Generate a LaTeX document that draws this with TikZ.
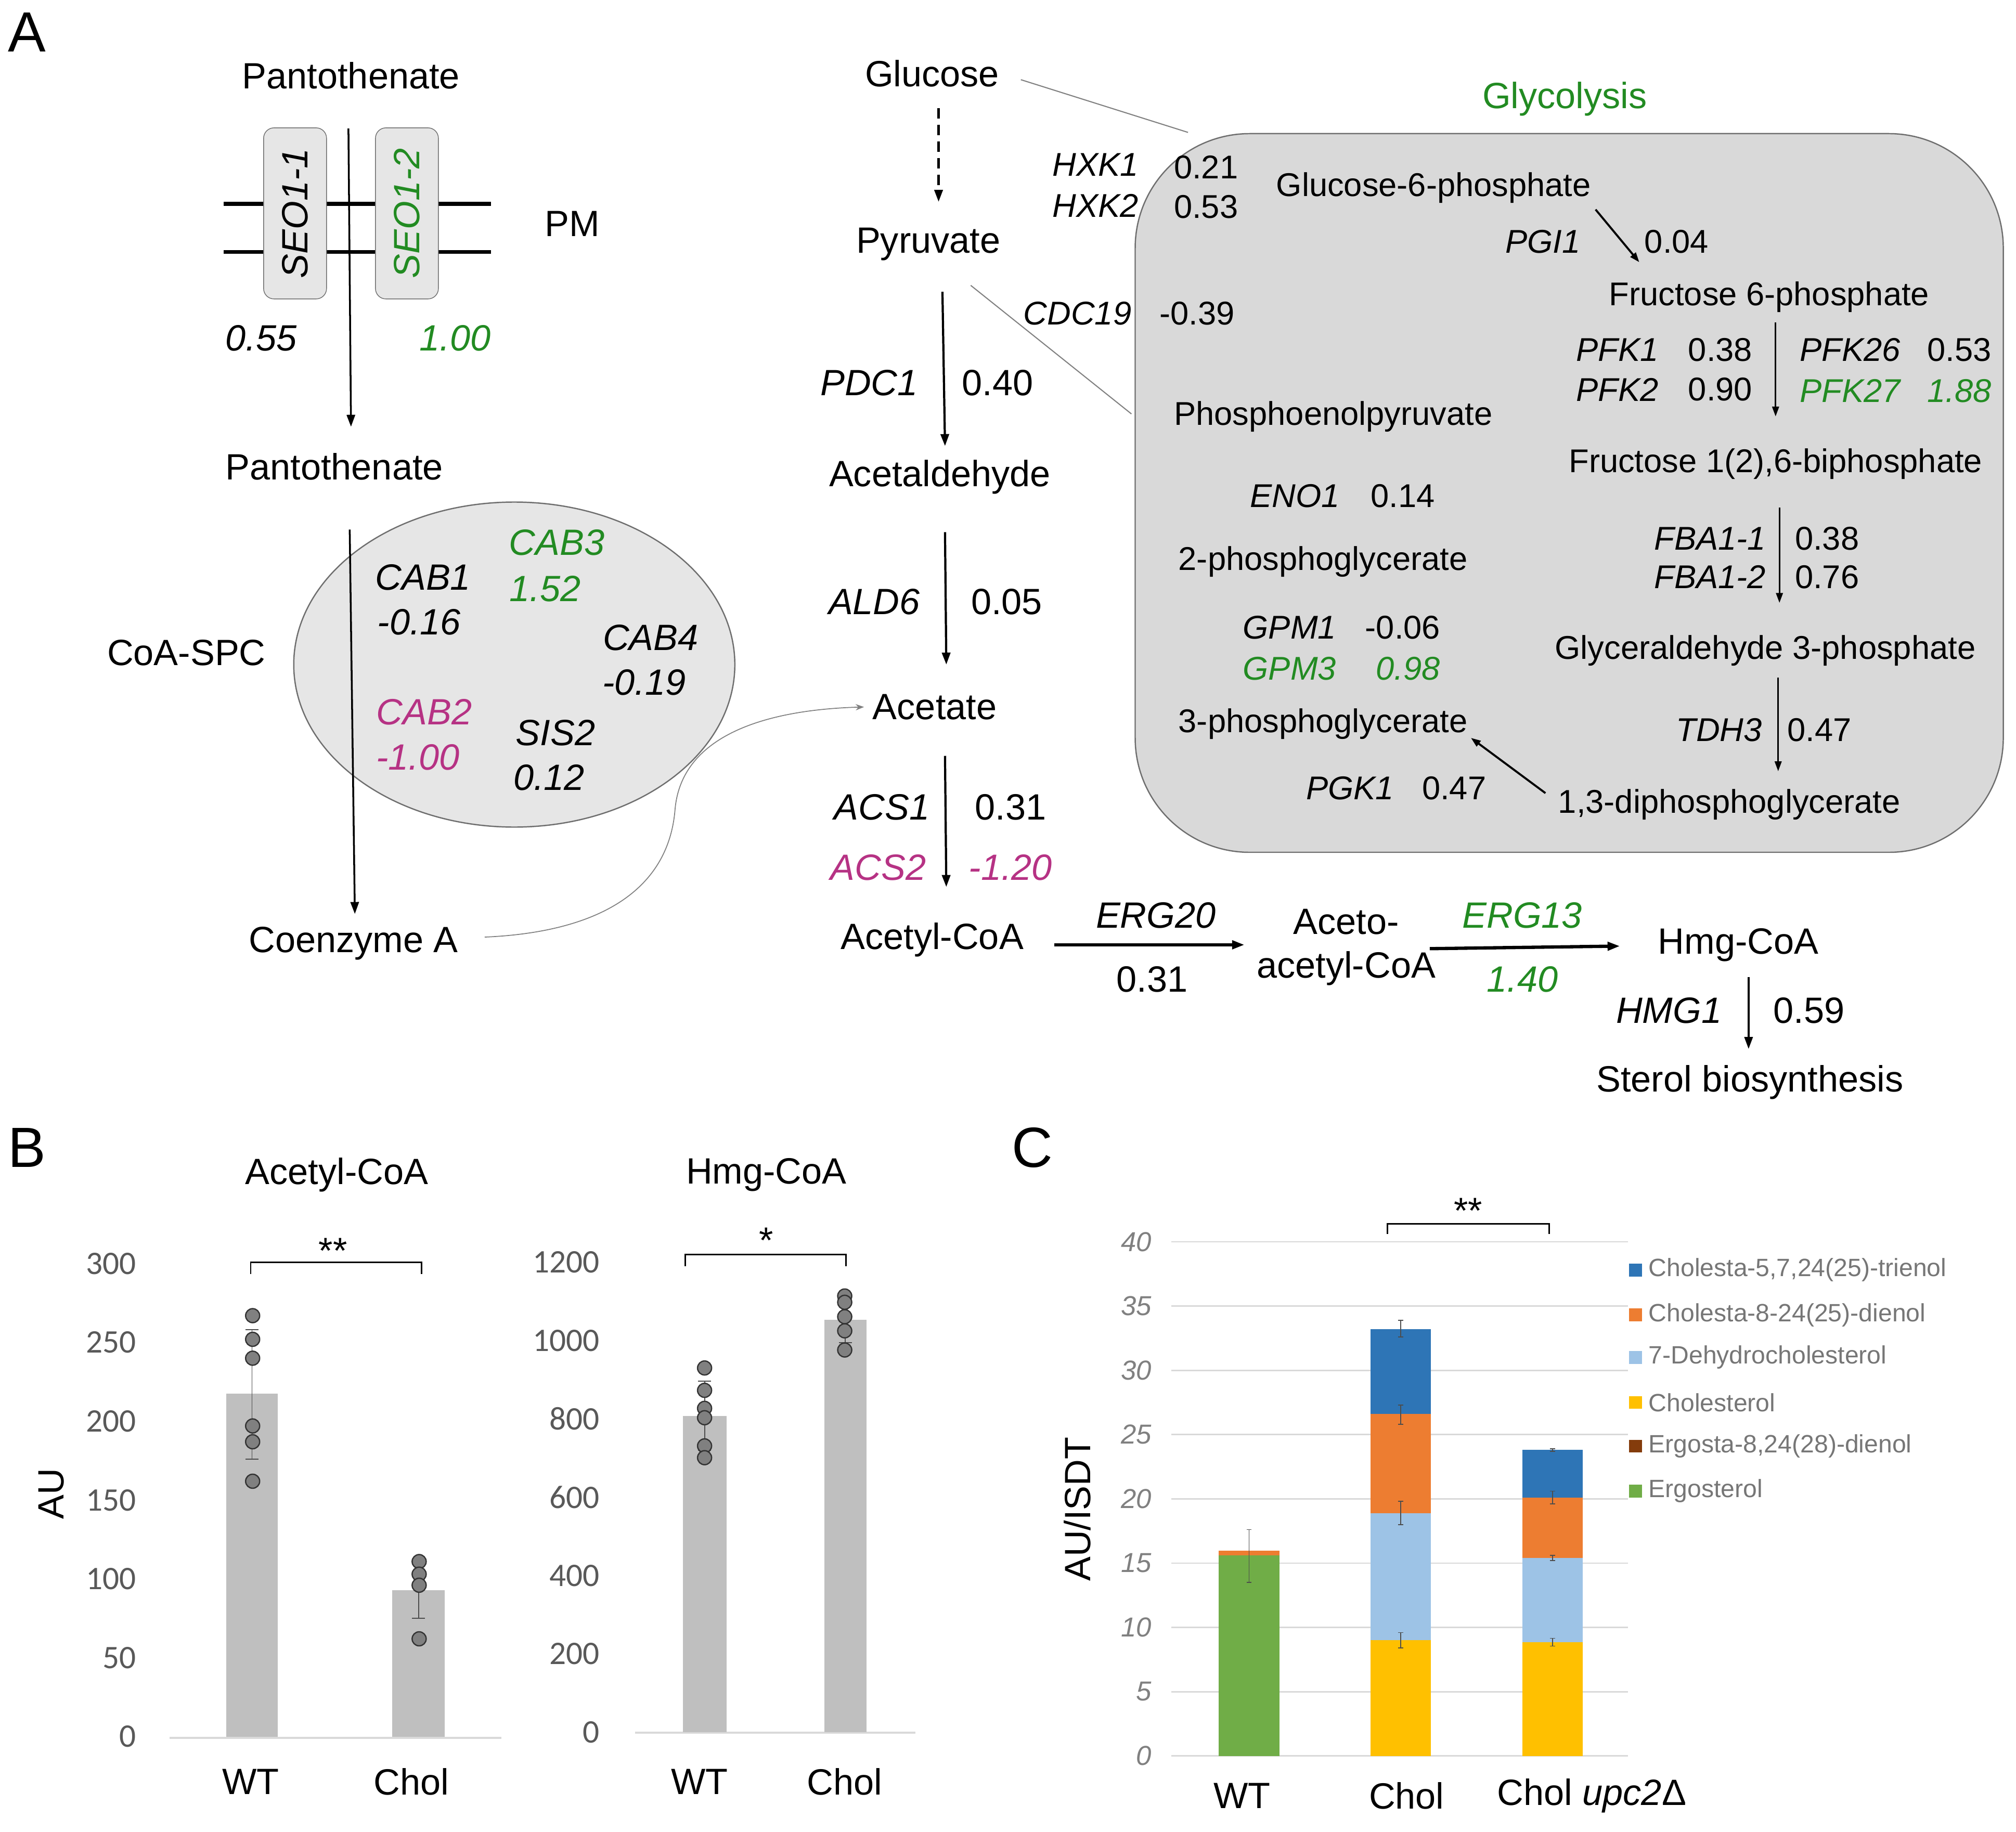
\documentclass[tikz,border=0pt]{standalone}
\usepackage{fontspec}
\setmainfont{Liberation Sans}
\newfontfamily\carlito{Carlito}
\usetikzlibrary{arrows.meta,shapes.geometric}
\definecolor{grn}{RGB}{34,139,34}
\definecolor{mag}{RGB}{182,50,132}
\definecolor{boxgray}{HTML}{D9D9D9}
\definecolor{ellgray}{HTML}{E6E6E6}
\definecolor{edgegray}{HTML}{6E6E6E}
\definecolor{bargray}{HTML}{BFBFBF}
\definecolor{dotgray}{HTML}{808080}
\definecolor{tickgray}{HTML}{595959}
\definecolor{leggray}{HTML}{767676}
\definecolor{gridgray}{HTML}{D9D9D9}
\definecolor{cgreen}{HTML}{70AD47}
\definecolor{cbrown}{HTML}{843C0C}
\definecolor{cyellow}{HTML}{FFC000}
\definecolor{clblue}{HTML}{9DC3E6}
\definecolor{corange}{HTML}{ED7D31}
\definecolor{cblue}{HTML}{2E75B6}
\begin{document}
\begin{tikzpicture}[x=0.2472mm,y=-0.2472mm,
  lab/.style={inner sep=0pt, font=\fontsize{20}{24}\selectfont},
  gene/.style={inner sep=0pt, font=\fontsize{20}{24}\selectfont\itshape},
  sm/.style={inner sep=0pt, font=\fontsize{18}{22}\selectfont},
  smg/.style={inner sep=0pt, font=\fontsize{18}{22}\selectfont\itshape},
  panel/.style={inner sep=0pt, font=\fontsize{31}{36}\selectfont},
  arr/.style={-{Triangle[length=2.3mm,width=1.6mm]}, line width=1.2pt},
  garr/.style={-{Triangle[length=1.9mm,width=1.3mm]}, line width=0.9pt},
  barr/.style={-{Triangle[length=2.4mm,width=1.6mm]}, line width=1.8pt},
  conn/.style={draw=gray, line width=0.6pt},
  mem/.style={line width=2.2pt},
  seobox/.style={draw=edgegray, fill=ellgray, rounded corners=2mm, inner sep=0pt,
    minimum width=32.9mm, minimum height=12.1mm, rotate=90,
    font=\fontsize{20}{24}\selectfont\itshape},
  tickB/.style={inner sep=0pt, anchor=east, text=tickgray, font=\carlito\fontsize{18}{22}\selectfont},
  tickC/.style={inner sep=0pt, anchor=east, text=dotgray, font=\fontsize{15}{18}\selectfont\itshape},
  legC/.style={inner sep=0pt, anchor=west, text=leggray, font=\fontsize{13.7}{16}\selectfont},
  ebar/.style={draw=black!70, line width=0.5pt},
  dot/.style={draw=black!80, fill=dotgray, line width=0.7pt}
]
\useasboundingbox (0,0) rectangle (1568,1425);

% ---------------- Panel A -----------------
\node[panel] (lblA) at (21,25) {A};

% membrane
\draw[mem] (174,158.6) -- (382,158.6);
\draw[mem] (174,196) -- (382,196);
\node[seobox] (seo1) at (229.5,166) {SEO1-1};
\node[seobox, text=grn] (seo2) at (316.5,166) {SEO1-2};
\node[lab] (pantoA) at (273,59) {Pantothenate};
\node[lab] (pm) at (445,174) {PM};
\node[gene] (v055) at (203,263) {0.55};
\node[gene, text=grn] (v100) at (354,263) {1.00};
\node[lab] (pantoB) at (260,363) {Pantothenate};
\draw[arr, line width=1pt] ([shift={(-2,41)}]pantoA.center) -- ([shift={(13,-31)}]pantoB.center);

% CoA-SPC ellipse
\node[draw=edgegray, fill=ellgray, ellipse, inner sep=0pt, line width=0.7pt,
  minimum width=84.8mm, minimum height=62.5mm] (spc) at (400,517) {};
\node[lab] (coa) at (275,734) {Coenzyme A};
\draw[arr, line width=1pt] ([shift={(12,49)}]pantoB.center) -- ([shift={(1,-23)}]coa.center);
\node[lab] (coaspc) at (145,508) {CoA-SPC};
\node[gene] (cab1) at (329,449) {CAB1};
\node[gene] (cab1v) at (326,484) {-0.16};
\node[gene, text=grn] (cab3) at (433,422) {CAB3};
\node[gene, text=grn] (cab3v) at (424,458) {1.52};
\node[gene] (cab4) at (506,496) {CAB4};
\node[gene] (cab4v) at (501,531) {-0.19};
\node[gene, text=mag] (cab2) at (330,554) {CAB2};
\node[gene, text=mag] (cab2v) at (325,589) {-1.00};
\node[gene] (sis2) at (432,570) {SIS2};
\node[gene] (sis2v) at (427,605) {0.12};

% middle column
\node[lab] (glc) at (725,57) {Glucose};
\node[lab] (pyr) at (722,190) {Pyruvate};
\node[lab] (acald) at (731,371) {Acetaldehyde};
\node[lab] (acet) at (727,550) {Acetate};
\node[lab] (accoa) at (725,731) {Acetyl-CoA};
\node[lab, align=center] (aacoa) at (1047,737) {Aceto-\\acetyl-CoA};
\node[lab] (hmg) at (1352,735) {Hmg-CoA};
\node[lab] (sterol) at (1361,842) {Sterol biosynthesis};

\draw[arr, dash pattern=on 2mm off 1.2mm] ([shift={(5,27)}]glc.center) -- ([shift={(8,-33)}]pyr.center);
\draw[arr] ([shift={(11,37)}]pyr.center) -- ([shift={(4,-24)}]acald.center);
\draw[arr] ([shift={(4,43)}]acald.center) -- ([shift={(9,-33)}]acet.center);
\draw[arr] ([shift={(8,38)}]acet.center) -- ([shift={(11,-41)}]accoa.center);
\draw[barr] ([shift={(95,4)}]accoa.center) -- ([shift={(-79,-2)}]aacoa.center);
\draw[barr] ([shift={(65,1)}]aacoa.center) -- ([shift={(-92,1)}]hmg.center);
\draw[arr, line width=1pt] ([shift={(8,25)}]hmg.center) -- ([shift={(-1,-26)}]sterol.center);

\node[gene] (pdc1) at (676,298) {PDC1};
\node[lab] (pdc1v) at (776,298) {0.40};
\node[gene] (ald6) at (680,468) {ALD6};
\node[lab] (ald6v) at (783,468) {0.05};
\node[gene] (acs1) at (686,628) {ACS1};
\node[lab] (acs1v) at (786,628) {0.31};
\node[gene, text=mag] (acs2) at (683,675) {ACS2};
\node[gene, text=mag] (acs2v) at (786,675) {-1.20};
\node[gene] (erg20) at (899,712) {ERG20};
\node[lab] (erg20v) at (896,762) {0.31};
\node[gene, text=grn] (erg13) at (1184,712) {ERG13};
\node[gene, text=grn] (erg13v) at (1184,762) {1.40};
\node[gene] (hmg1) at (1298,786) {HMG1};
\node[lab] (hmg1v) at (1407,786) {0.59};

% CoA -> acetate curve
\draw[-{Stealth[length=1.6mm,width=1.2mm]}, draw=gray, line width=0.5pt]
  ([shift={(102,-5)}]coa.center) .. controls (470,725) and (520,690) .. (525,630)
  .. controls (530,570) and (600,552) .. ([shift={(-55,0)}]acet.center);

% Glycolysis box
\node[draw=edgegray, fill=boxgray, rounded corners=22mm, inner sep=0pt, line width=0.7pt,
  minimum width=166.9mm, minimum height=138.2mm] (gbox) at (1220.5,383.5) {};
\draw[conn] ([shift={(69,5)}]glc.center) -- ([shift={(-296.5,-280.5)}]gbox.center);
\draw[conn] ([shift={(33,32)}]pyr.center) -- ([shift={(-340.5,-61.5)}]gbox.center);
\node[lab, text=grn] (glyco) at (1217,77) {Glycolysis};

\node[smg] (hxk1) at (852,128) {HXK1};
\node[sm] (hxk1v) at (938,130) {0.21};
\node[smg] (hxk2) at (852,160) {HXK2};
\node[sm] (hxk2v) at (938,161) {0.53};
\node[smg] (cdc19) at (838,244) {CDC19};
\node[sm] (cdc19v) at (931,244) {-0.39};

\node[sm] (g6p) at (1115,146) {Glucose-6-phosphate};
\node[sm] (f6p) at (1376,231) {Fructose 6-phosphate};
\node[sm] (f16bp) at (1381,361) {Fructose 1(2),6-biphosphate};
\node[sm] (gap) at (1373,506) {Glyceraldehyde 3-phosphate};
\node[sm] (bpg) at (1345,626) {1,3-diphosphoglycerate};
\node[sm] (pep) at (1037,324) {Phosphoenolpyruvate};
\node[sm] (pg2) at (1029,437) {2-phosphoglycerate};
\node[sm] (pg3) at (1029,563) {3-phosphoglycerate};

\draw[garr, line width=1.1pt] ([shift={(126,17)}]g6p.center) -- ([shift={(-101,-27)}]f6p.center);
\draw[garr] ([shift={(5,20)}]f6p.center) -- ([shift={(0,-37)}]f16bp.center);
\draw[garr] ([shift={(3,34)}]f16bp.center) -- ([shift={(11,-37)}]gap.center);
\draw[garr] ([shift={(10,21)}]gap.center) -- ([shift={(38,-26)}]bpg.center);
\draw[garr, line width=1.1pt] ([shift={(-143,-9)}]bpg.center) -- ([shift={(115,11)}]pg3.center);

\node[smg] (pgi1) at (1200,188) {PGI1};
\node[sm] (pgi1v) at (1304,188) {0.04};
\node[smg] (pfk1) at (1258,272) {PFK1};
\node[sm] (pfk1v) at (1338,272) {0.38};
\node[smg] (pfk2) at (1258,303) {PFK2};
\node[sm] (pfk2v) at (1338,303) {0.90};
\node[smg] (pfk26) at (1439,272) {PFK26};
\node[sm] (pfk26v) at (1524,272) {0.53};
\node[smg, text=grn] (pfk27) at (1439,304) {PFK27};
\node[smg, text=grn] (pfk27v) at (1524,304) {1.88};
\node[smg] (eno1) at (1007,386) {ENO1};
\node[sm] (eno1v) at (1091,386) {0.14};
\node[smg] (fba11) at (1330,419) {FBA1-1};
\node[sm] (fba11v) at (1421,419) {0.38};
\node[smg] (fba12) at (1330,449) {FBA1-2};
\node[sm] (fba12v) at (1421,449) {0.76};
\node[smg] (gpm1) at (1003,488) {GPM1};
\node[sm] (gpm1v) at (1091,488) {-0.06};
\node[smg, text=grn] (gpm3) at (1003,520) {GPM3};
\node[smg, text=grn] (gpm3v) at (1095,520) {0.98};
\node[smg] (tdh3) at (1337,568) {TDH3};
\node[sm] (tdh3v) at (1415,568) {0.47};
\node[smg] (pgk1) at (1050,613) {PGK1};
\node[sm] (pgk1v) at (1131,613) {0.47};

% ---------------- Panel B -----------------
\node[panel] (lblB) at (21,893) {B};
\node[lab] (tB1) at (262,914) {Acetyl-CoA};
\node[lab] (tB2) at (596,914) {Hmg-CoA};
\node[lab, rotate=90] (auB) at (40,1162) {AU};

% left chart
\foreach \v in {0,50,...,300} \node[tickB] (tl\v) at (106,{1351-1.2267*\v}) {\v};
\draw[gridgray, line width=1pt] (132,1352) -- (390,1352);
\fill[bargray] (176,1351) rectangle (216,1084);
\fill[bargray] (305,1351) rectangle (346,1237);
\draw[ebar] (196,1034.5) -- (196,1135) (191,1034.5) -- (201,1034.5) (191,1135) -- (201,1135);
\draw[ebar] (325.5,1215) -- (325.5,1259) (320.5,1215) -- (330.5,1215) (320.5,1259) -- (330.5,1259);
\foreach \y in {1023.5,1041.9,1056.6,1109.3,1121.6,1152.3} \draw[dot] (196.5,\y) circle[radius=1.35mm];
\foreach \y in {1214.8,1224.6,1233.2,1274.9} \draw[dot] (326,\y) circle[radius=1.35mm];
\draw[line width=0.8pt] (195,991) -- (195,982) -- (328,982) -- (328,991);
\node[lab] (sigB1) at (259,973) {**};
\node[lab] (wtB1) at (195,1386) {WT};
\node[lab] (chB1) at (320,1386) {Chol};

% right chart
\foreach \v in {0,200,...,1200} \node[tickB] (tr\v) at (466.5,{1347.5-0.3046*\v}) {\v};
\draw[gridgray, line width=1pt] (494,1348) -- (712,1348);
\fill[bargray] (531,1347.5) rectangle (565,1101.7);
\fill[bargray] (641,1347.5) rectangle (674,1026.8);
\draw[ebar] (548,1074.6) -- (548,1128.2) (543,1074.6) -- (553,1074.6) (543,1128.2) -- (553,1128.2);
\draw[ebar] (657.5,1009.4) -- (657.5,1044.4) (652.5,1009.4) -- (662.5,1009.4) (652.5,1044.4) -- (662.5,1044.4);
\foreach \y in {1064.2,1081.6,1095.6,1102.9,1124.8,1134} \draw[dot] (548,\y) circle[radius=1.35mm];
\foreach \y in {1008.2,1013.1,1024.3,1035.3,1050.2} \draw[dot] (657,\y) circle[radius=1.35mm];
\draw[line width=0.8pt] (533,985) -- (533,976) -- (658,976) -- (658,985);
\node[lab] (sigB2) at (596,965) {*};
\node[lab] (wtB2) at (544,1386) {WT};
\node[lab] (chB2) at (657,1386) {Chol};

% ---------------- Panel C -----------------
\node[panel] (lblC) at (803,893) {C};
\node[lab, rotate=90] (auC) at (838,1174) {AU/ISDT};
\foreach \v in {0,5,...,40} {
  \draw[gridgray, line width=0.8pt] (911,{1366-10*\v}) -- (1266,{1366-10*\v});
  \node[tickC] (tc\v) at (896,{1366-10*\v}) {\v};
}
% WT
\fill[cgreen] (948,1366) rectangle (995,1210);
\fill[corange] (948,1210) rectangle (995,1206.5);
% Chol
\fill[cyellow] (1066,1366) rectangle (1113,1276);
\fill[clblue] (1066,1276) rectangle (1113,1177);
\fill[corange] (1066,1177) rectangle (1113,1100);
\fill[cblue] (1066,1100) rectangle (1113,1034);
% Chol upc2
\fill[cyellow] (1184,1366) rectangle (1231,1277.5);
\fill[clblue] (1184,1277.5) rectangle (1231,1212);
\fill[corange] (1184,1212) rectangle (1231,1165);
\fill[cblue] (1184,1165) rectangle (1231,1128);
% error bars
\foreach \x/\a/\b in {971.5/1231/1190, 1089.5/1282/1270, 1089.5/1186/1168, 1089.5/1108/1093, 1089.5/1040/1027,
  1207.5/1280.5/1274.5, 1207.5/1214/1210, 1207.5/1170/1160, 1207.5/1129/1127}
  \draw[ebar, line width=0.45pt] (\x,\a) -- (\x,\b) ({\x-2},\a) -- ({\x+2},\a) ({\x-2},\b) -- ({\x+2},\b);
\draw[line width=0.8pt] (1079,960) -- (1079,952) -- (1205,952) -- (1205,960);
\node[lab] (sigC) at (1142,942) {**};
% legend
\foreach \c/\y/\t [count=\i] in {cblue/988/{Cholesta-5,7,24(25)-trienol}, corange/1023/{Cholesta-8-24(25)-dienol},
  clblue/1056/{7-Dehydrocholesterol}, cyellow/1091/{Cholesterol}, cbrown/1125/{Ergosta-8,24(28)-dienol},
  cgreen/1160/{Ergosterol}} {
  \fill[\c] (1267,{\y-5}) rectangle (1277,{\y+5});
  \node[legC] (leg\i) at (1282,\y) {\t};
}
\node[lab] (wtC) at (966,1397) {WT};
\node[lab] (chC) at (1094,1397) {Chol};
\node[lab] (upC) at (1238,1397) {Chol \textit{upc2}Δ};

\end{tikzpicture}
\end{document}
